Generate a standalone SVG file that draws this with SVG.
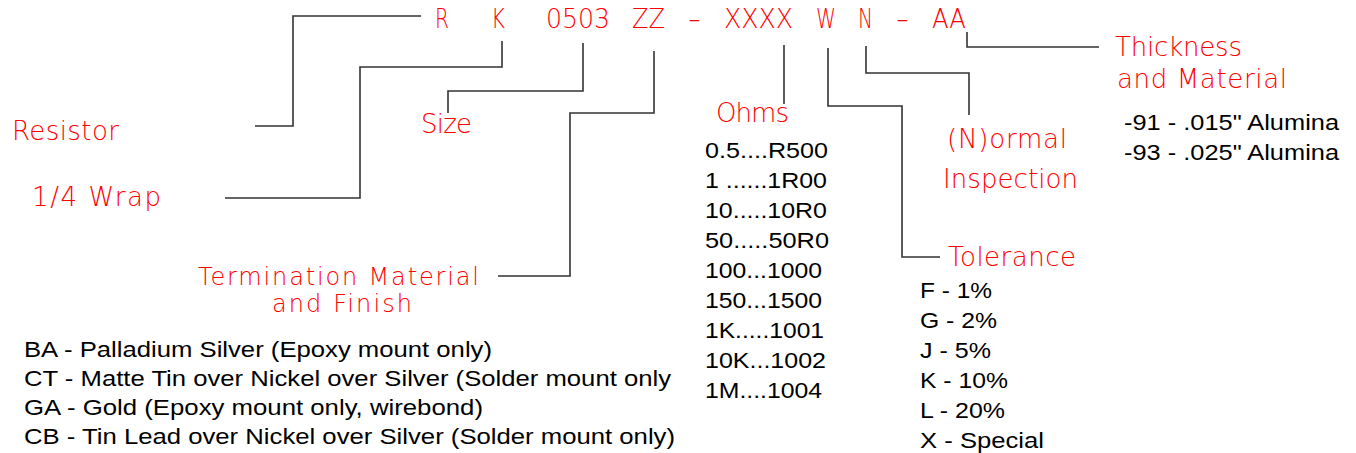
<svg xmlns="http://www.w3.org/2000/svg" width="1356" height="453" viewBox="0 0 1356 453">
<style>
.r{font-family:"DejaVu Sans","Liberation Sans",sans-serif;font-weight:200;font-size:26px;fill:#ff0000}
.s{font-size:24px}
.b{font-family:"Liberation Sans",Arial,sans-serif;font-size:22px;fill:#000}
.l{fill:none;stroke:#333;stroke-width:1.6}
</style>
<rect width="1356" height="453" fill="#fff"/>
<g id="code">
<text class="r" x="435" y="28" textLength="14" lengthAdjust="spacingAndGlyphs">R</text>
<text class="r" x="491" y="28" textLength="14" lengthAdjust="spacingAndGlyphs">K</text>
<text class="r" x="546" y="28" textLength="64" lengthAdjust="spacingAndGlyphs">0503</text>
<text class="r" x="632" y="28" textLength="33" lengthAdjust="spacingAndGlyphs">ZZ</text>
<text class="r" x="688" y="28" textLength="13" lengthAdjust="spacingAndGlyphs">-</text>
<text class="r" x="724" y="28" textLength="69" lengthAdjust="spacingAndGlyphs">XXXX</text>
<text class="r" x="816" y="28" textLength="20" lengthAdjust="spacingAndGlyphs">W</text>
<text class="r" x="858" y="28" textLength="15" lengthAdjust="spacingAndGlyphs">N</text>
<text class="r" x="896" y="28" textLength="13" lengthAdjust="spacingAndGlyphs">-</text>
<text class="r" x="932" y="28" textLength="34" lengthAdjust="spacingAndGlyphs">AA</text>
</g>
<g id="connectors">
<polyline class="l" points="421,16 293,16 293,126 255,126"/>
<polyline class="l" points="502,41 502,67 360,67 360,198 225,198"/>
<polyline class="l" points="583,43 583,91 448,91 448,113"/>
<polyline class="l" points="654,51 654,113 570,113 570,276 498,276"/>
<polyline class="l" points="784,45 784,104"/>
<polyline class="l" points="828,48 828,106 902,106 902,257 940,257"/>
<polyline class="l" points="866,46 866,73 969,73 969,115"/>
<polyline class="l" points="967,32 967,47 1099,47"/>
</g>
<g id="resistor"><text class="r" x="12" y="140" textLength="107" lengthAdjust="spacing">Resistor</text></g>
<g id="wrap"><text class="r" x="32" y="206" textLength="129" lengthAdjust="spacing">1/4 Wrap</text></g>
<g id="size"><text class="r" x="421" y="133" textLength="51" lengthAdjust="spacing">Size</text></g>
<g id="termination">
<text class="r s" x="198" y="285" textLength="281" lengthAdjust="spacing">Termination Material</text>
<text class="r s" x="272" y="312" textLength="140" lengthAdjust="spacing">and Finish</text>
<text class="b" x="24" y="357" textLength="468" lengthAdjust="spacingAndGlyphs">BA - Palladium Silver (Epoxy mount only)</text>
<text class="b" x="24" y="386" textLength="647" lengthAdjust="spacingAndGlyphs">CT - Matte Tin over Nickel over Silver (Solder mount only</text>
<text class="b" x="24" y="415" textLength="459" lengthAdjust="spacingAndGlyphs">GA - Gold (Epoxy mount only, wirebond)</text>
<text class="b" x="24" y="444" textLength="651" lengthAdjust="spacingAndGlyphs">CB - Tin Lead over Nickel over Silver (Solder mount only)</text>
</g>
<g id="ohms">
<text class="r" x="716" y="122" textLength="73" lengthAdjust="spacing">Ohms</text>
<text class="b" x="705" y="158" textLength="123" lengthAdjust="spacingAndGlyphs">0.5....R500</text>
<text class="b" x="705" y="188" textLength="122" lengthAdjust="spacingAndGlyphs">1 ......1R00</text>
<text class="b" x="705" y="218" textLength="122" lengthAdjust="spacingAndGlyphs">10.....10R0</text>
<text class="b" x="705" y="248" textLength="124" lengthAdjust="spacingAndGlyphs">50.....50R0</text>
<text class="b" x="705" y="278" textLength="117" lengthAdjust="spacingAndGlyphs">100...1000</text>
<text class="b" x="705" y="308" textLength="117" lengthAdjust="spacingAndGlyphs">150...1500</text>
<text class="b" x="705" y="338" textLength="119" lengthAdjust="spacingAndGlyphs">1K.....1001</text>
<text class="b" x="705" y="368" textLength="121" lengthAdjust="spacingAndGlyphs">10K...1002</text>
<text class="b" x="705" y="398" textLength="117" lengthAdjust="spacingAndGlyphs">1M....1004</text>
</g>
<g id="inspection">
<text class="r" x="947" y="148" textLength="120" lengthAdjust="spacing">(N)ormal</text>
<text class="r" x="943" y="188" textLength="135" lengthAdjust="spacing">Inspection</text>
</g>
<g id="tolerance">
<text class="r" x="948" y="266" textLength="128" lengthAdjust="spacing">Tolerance</text>
<text class="b" x="920" y="298" textLength="72" lengthAdjust="spacingAndGlyphs">F - 1%</text>
<text class="b" x="920" y="328" textLength="77" lengthAdjust="spacingAndGlyphs">G - 2%</text>
<text class="b" x="920" y="358" textLength="71" lengthAdjust="spacingAndGlyphs">J - 5%</text>
<text class="b" x="920" y="388" textLength="88" lengthAdjust="spacingAndGlyphs">K - 10%</text>
<text class="b" x="920" y="418" textLength="85" lengthAdjust="spacingAndGlyphs">L - 20%</text>
<text class="b" x="920" y="448" textLength="124" lengthAdjust="spacingAndGlyphs">X - Special</text>
</g>
<g id="thickness">
<text class="r" x="1115" y="56" textLength="127" lengthAdjust="spacing">Thickness</text>
<text class="r" x="1117" y="88" textLength="170" lengthAdjust="spacing">and Material</text>
<text class="b" x="1124" y="130" textLength="215" lengthAdjust="spacingAndGlyphs">-91 - .015" Alumina</text>
<text class="b" x="1124" y="160" textLength="215" lengthAdjust="spacingAndGlyphs">-93 - .025" Alumina</text>
</g>
</svg>
